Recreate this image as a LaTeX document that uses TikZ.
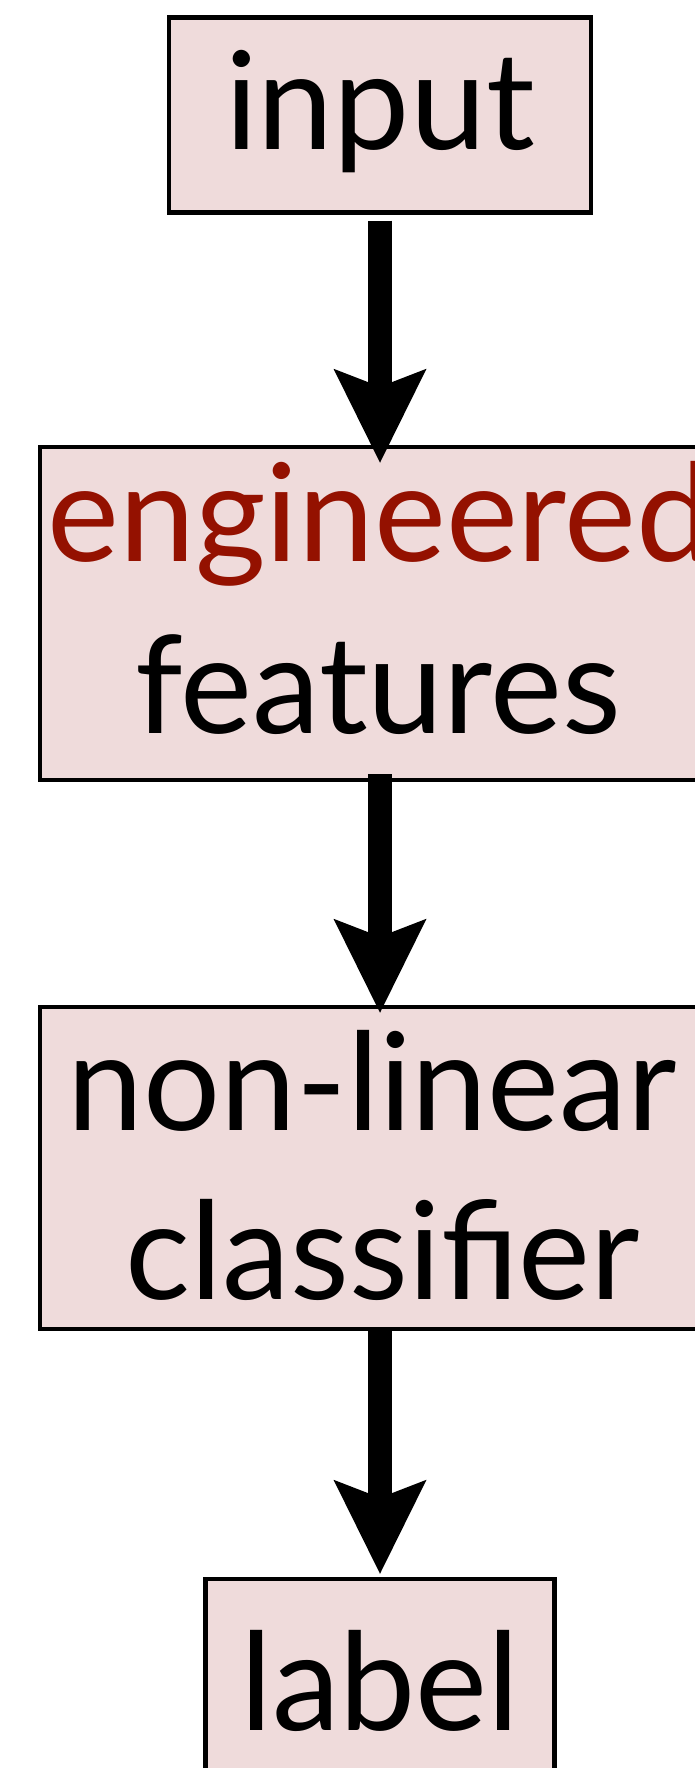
\documentclass[tikz,border=0pt]{standalone}
\usepackage{fontspec}
\setmainfont{Lato}
\usetikzlibrary{arrows.meta}
\definecolor{boxfill}{RGB}{239,219,219}
\definecolor{engred}{RGB}{148,17,0}
\begin{document}
\begin{tikzpicture}[x=1pt,y=-1pt,
  box/.style={draw=black, line width=4.5pt, fill=boxfill, rectangle, inner sep=0pt},
  txt/.style={font=\fontsize{136}{160}\selectfont, inner sep=0pt, anchor=base},
  flow/.style={line width=24pt, -{Stealth[length=94pt,width=93pt,inset=18pt,line width=0pt]}}]
\useasboundingbox (0,0) rectangle (695,1768);
\fill[white] (0,0) rectangle (695,1768);
\clip (0,0) rectangle (695,1768);
\node[box, minimum width=422pt, minimum height=195pt] (in) at (380,115) {};
\node[box, minimum width=680pt, minimum height=333pt] (feat) at (380,613.5) {};
\node[box, minimum width=680pt, minimum height=322pt] (clf) at (380,1168) {};
\node[box, minimum width=349pt, minimum height=300pt] (lab) at (380,1729) {};
\node[txt] (tin) at (380,150) {input};
\node[txt, text=engred] (teng) at (380,561) {engineered};
\node[txt] (tfeat) at (378,733) {features};
\node[txt] (tnon) at (372,1130) {non-linear};
\node[txt] (tcls) at (383,1299) {classifier};
\node[txt] (tlab) at (380,1730) {label};
\draw[flow, shorten <=6pt, shorten >=-18pt] (in.south) -- (feat.north);
\draw[flow, shorten <=-8pt, shorten >=-8pt] (feat.south) -- (clf.north);
\draw[flow, shorten <=0pt, shorten >=3pt] (clf.south) -- (lab.north);
\end{tikzpicture}
\end{document}
